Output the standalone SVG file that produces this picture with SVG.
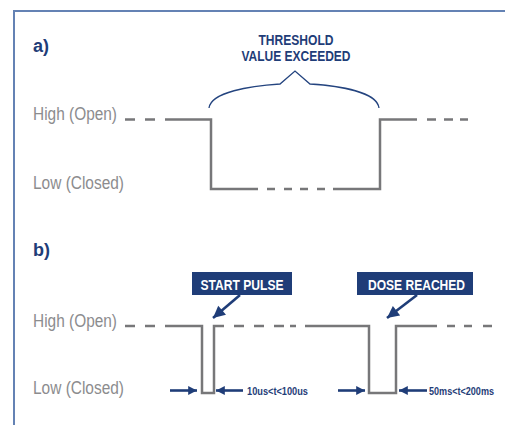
<svg xmlns="http://www.w3.org/2000/svg" width="505" height="425" viewBox="0 0 505 425">
<defs>
<style>
.frame{fill:none;stroke:#6482b4;stroke-width:2}
.sig{fill:none;stroke:#777779;stroke-width:2.5;stroke-linejoin:miter;stroke-linecap:butt}
.lbl{font-family:"Liberation Sans",Arial,sans-serif;font-size:18px;fill:#8c8c8e}
.sec{font-family:"Liberation Sans",Arial,sans-serif;font-size:18px;font-weight:bold;fill:#1f3d78}
.hd{font-family:"Liberation Sans",Arial,sans-serif;font-size:15.5px;font-weight:bold;fill:#1f3d78}
.box{fill:#1f3d78}
.boxt{font-family:"Liberation Sans",Arial,sans-serif;font-size:15px;font-weight:bold;fill:#ffffff}
.dim{font-family:"Liberation Sans",Arial,sans-serif;font-size:10px;font-weight:bold;fill:#1f3d78}
.nav{fill:none;stroke:#1f3d78;stroke-width:2.6}
.brace{fill:none;stroke:#24447f;stroke-width:1.3}
</style>
<marker id="ah" viewBox="0 0 10 10" refX="10" refY="5" markerWidth="4" markerHeight="3.4" orient="auto" markerUnits="strokeWidth">
<path d="M0,0 L10,5 L0,10 Z" fill="#1f3d78"/>
</marker>
<marker id="ahb" viewBox="0 0 10 10" refX="10" refY="5" markerWidth="5" markerHeight="4.6" orient="auto" markerUnits="strokeWidth">
<path d="M0,0 L10,5 L0,10 Z" fill="#1f3d78"/>
</marker>
</defs>

<g id="frame">
<path class="frame" d="M14,425 L14,11 L505,11"/>
</g>

<g id="section-a">
<text class="sec" x="33" y="52">a)</text>
<text class="hd" x="296" y="45" text-anchor="middle" textLength="75" lengthAdjust="spacingAndGlyphs">THRESHOLD</text>
<text class="hd" x="296" y="61" text-anchor="middle" textLength="109" lengthAdjust="spacingAndGlyphs">VALUE EXCEEDED</text>
<text class="lbl" x="33" y="120" textLength="84" lengthAdjust="spacingAndGlyphs">High (Open)</text>
<text class="lbl" x="33" y="189" textLength="91" lengthAdjust="spacingAndGlyphs">Low (Closed)</text>
</g>

<g id="brace">
<path class="brace" d="M209,108 C211,92 250,86 280,84 L295,71 L310,84 C340,86 377,92 379,108"/>
</g>

<g id="signal-a">
<path class="sig" d="M125,119.5 H135 M145,119.5 H155"/>
<path class="sig" d="M165,119.5 H211 V189 H258"/>
<path class="sig" d="M267,189 H275 M284,189 H292 M300,189 H308 M317,189 H325"/>
<path class="sig" d="M333,189 H380 V119.5 H417"/>
<path class="sig" d="M427,119.5 H436 M444,119.5 H453 M460,119.5 H468"/>
</g>

<g id="section-b">
<text class="sec" x="33" y="256">b)</text>
<text class="lbl" x="33" y="327" textLength="84" lengthAdjust="spacingAndGlyphs">High (Open)</text>
<text class="lbl" x="33" y="394" textLength="91" lengthAdjust="spacingAndGlyphs">Low (Closed)</text>
</g>

<g id="signal-b">
<path class="sig" d="M125,326 H135 M145,326 H155"/>
<path class="sig" d="M165,326 H202 V393 H214 V326 H224"/>
<path class="sig" d="M234,326 H244 M254,326 H264 M274,326 H284 M290,326 H296"/>
<path class="sig" d="M305,326 H369 V393 H396 V326 H437"/>
<path class="sig" d="M447,326 H455 M464,326 H472 M483,326 H492"/>
</g>

<g id="start-pulse">
<rect class="box" x="192" y="272" width="100" height="23"/>
<text class="boxt" x="242" y="290" text-anchor="middle" textLength="83" lengthAdjust="spacingAndGlyphs">START PULSE</text>
</g>

<g id="dose-reached">
<rect class="box" x="357" y="272" width="116" height="23"/>
<text class="boxt" x="416.5" y="290" text-anchor="middle" textLength="97" lengthAdjust="spacingAndGlyphs">DOSE REACHED</text>
</g>

<g id="connectors">
<line class="nav" x1="240" y1="295" x2="213" y2="318" marker-end="url(#ahb)"/>
<line class="nav" x1="417" y1="295" x2="387" y2="318" marker-end="url(#ahb)"/>
<line class="nav" x1="170" y1="390.5" x2="197" y2="390.5" marker-end="url(#ah)"/>
<line class="nav" x1="243" y1="390.5" x2="216" y2="390.5" marker-end="url(#ah)"/>
<line class="nav" x1="338" y1="390.5" x2="365" y2="390.5" marker-end="url(#ah)"/>
<line class="nav" x1="427" y1="390.5" x2="399" y2="390.5" marker-end="url(#ah)"/>
</g>

<g id="dim-labels">
<text class="dim" x="247" y="394.5" textLength="61" lengthAdjust="spacingAndGlyphs">10us&lt;t&lt;100us</text>
<text class="dim" x="429" y="394.5" textLength="65" lengthAdjust="spacingAndGlyphs">50ms&lt;t&lt;200ms</text>
</g>
</svg>
